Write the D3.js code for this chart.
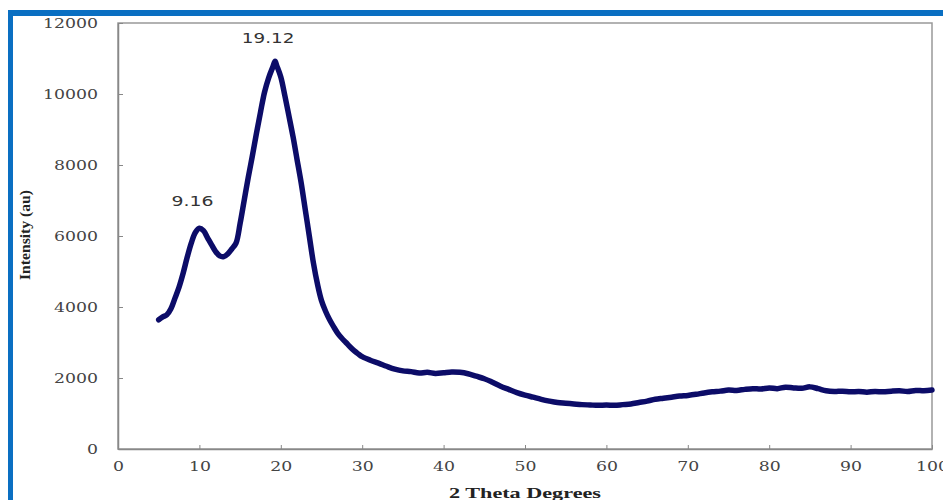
<!DOCTYPE html>
<html>
<head>
<meta charset="utf-8">
<script src="https://cdn.jsdelivr.net/npm/d3@7"></script>
<style>
  body { margin: 0; background: #fff; }
  .tick text { font-family: "DejaVu Serif", serif; font-size: 13px; fill: #444; }
</style>
</head>
<body>
<div id="vis"></div>
<script>
var theta = [5, 5.5, 6, 6.5, 7, 7.5, 8, 8.5, 9, 9.5, 10, 10.5, 11, 11.5, 12, 12.5, 13, 13.5, 14, 14.5,
    15, 15.5, 16, 16.5, 17, 17.5, 18, 18.5, 19, 19.3, 19.5, 20, 20.5, 21, 21.5, 22, 22.5, 23, 23.5, 24, 24.5,
    25, 25.5, 26, 26.5, 27, 27.5, 28, 28.5, 29, 29.5, 30, 31, 32, 33, 34, 35, 36, 37, 38, 39,
    40, 41, 42, 43, 44, 45, 46, 47, 48, 49, 50, 51, 52, 53, 54, 55, 56, 57, 58, 59,
    60, 61, 62, 63, 64, 65, 66, 67, 68, 69, 70, 71, 72, 73, 74, 75, 76, 77, 78, 79,
    80, 81, 82, 83, 84, 85, 86, 87, 88, 89, 90, 91, 92, 93, 94, 95, 96, 97, 98, 99, 100];
var intensity = [3640, 3720, 3780, 3950, 4250, 4560, 4950, 5400, 5800, 6100, 6220, 6150, 5950, 5750, 5560, 5440, 5420, 5500, 5640, 5800,
    6350, 7000, 7650, 8250, 8880, 9480, 10050, 10450, 10750, 10920, 10800, 10480, 9950, 9380, 8800, 8150, 7500, 6750, 6000, 5250, 4650,
    4180, 3880, 3640, 3440, 3260, 3120, 3000, 2880, 2770, 2680, 2600, 2500, 2420, 2330, 2250, 2200, 2180, 2140, 2160, 2130,
    2150, 2170, 2160, 2120, 2050, 1980, 1880, 1770, 1680, 1590, 1520, 1460, 1400, 1350, 1310, 1290, 1270, 1250, 1240, 1230,
    1240, 1230, 1250, 1270, 1310, 1350, 1400, 1430, 1460, 1490, 1510, 1540, 1580, 1610, 1630, 1660, 1650, 1680, 1700, 1690,
    1720, 1700, 1740, 1720, 1710, 1750, 1700, 1640, 1620, 1630, 1610, 1620, 1600, 1620, 1610, 1630, 1640, 1620, 1650, 1640, 1660];

var xTicks = [0, 10, 20, 30, 40, 50, 60, 70, 80, 90, 100];
var yTicks = [0, 2000, 4000, 6000, 8000, 10000, 12000];

var peakLabels = ["9.16", "19.12"];
var peakTheta = [10, 19.3];
var peakValue = [6220, 10920];

var w = 943, h = 500;
var plotLeft = 118, plotRight = 932, plotTop = 23, plotBottom = 449;

var svg = d3.select("#vis").append("svg")
    .attr("width", w)
    .attr("height", h);

/* BLUE FRAME (top and left edges only are visible) */
svg.append("rect")
    .attr("x", 8).attr("y", 10)
    .attr("width", w - 8).attr("height", 6)
    .attr("fill", "#0a6fc2");
svg.append("rect")
    .attr("x", 8).attr("y", 10)
    .attr("width", 5).attr("height", h - 10)
    .attr("fill", "#0a6fc2");

/* SCALES */
var xScale = d3.scaleLinear().domain([0, 100]).range([plotLeft, plotRight]);
var yScale = d3.scaleLinear().domain([0, 12000]).range([plotBottom, plotTop]);

/* PLOT FRAME */
svg.append("rect")
    .attr("x", plotLeft).attr("y", plotTop)
    .attr("width", plotRight - plotLeft).attr("height", plotBottom - plotTop)
    .attr("fill", "none")
    .attr("stroke", "#999")
    .attr("stroke-width", 1.5);

/* AXES */
var xAxis = d3.axisBottom(xScale)
    .tickValues(xTicks)
    .tickSizeInner(-4)
    .tickSizeOuter(0)
    .tickPadding(14)
    .tickFormat(d3.format("d"));

var yAxis = d3.axisLeft(yScale)
    .tickValues(yTicks)
    .tickSizeInner(-5)
    .tickSizeOuter(0)
    .tickPadding(20)
    .tickFormat(d3.format("d"));

var gx = svg.append("g")
    .attr("transform", "translate(0," + plotBottom + ")")
    .call(xAxis);

var gy = svg.append("g")
    .attr("transform", "translate(" + plotLeft + ",0)")
    .call(yAxis);

[gx, gy].forEach(function (g) {
    g.select(".domain").attr("stroke", "#888").attr("stroke-width", 1.5);
    g.selectAll(".tick line").attr("stroke", "#888");
    g.selectAll(".tick text")
        .attr("textLength", function (d) { return String(d).length * 11; })
        .attr("lengthAdjust", "spacingAndGlyphs");
});
gx.selectAll(".tick text").attr("dy", "0.6em");

/* CURVE */
var pts = theta.map(function (t, i) { return [t, intensity[i]]; });

var line = d3.line()
    .x(d => xScale(d[0]))
    .y(d => yScale(d[1]))
    .curve(d3.curveCatmullRom);

svg.append("path")
    .datum(pts)
    .attr("d", line)
    .attr("fill", "none")
    .attr("stroke", "#0c0c68")
    .attr("stroke-width", 5.5)
    .attr("stroke-linejoin", "round")
    .attr("stroke-linecap", "round");

/* PEAK LABELS */
svg.selectAll(".peak")
    .data(peakLabels)
    .enter()
    .append("text")
    .attr("class", "peak")
    .attr("x", (d, i) => xScale(peakTheta[i]) - 7)
    .attr("y", (d, i) => yScale(peakValue[i]) - (i === 0 ? 22 : 18))
    .attr("text-anchor", "middle")
    .attr("textLength", d => d.length * 10.5)
    .attr("lengthAdjust", "spacingAndGlyphs")
    .style("font-family", "DejaVu Sans, sans-serif")
    .style("font-size", "14px")
    .style("fill", "#333")
    .text(d => d);

/* AXIS TITLES */
svg.append("text")
    .attr("x", (plotLeft + plotRight) / 2)
    .attr("y", 498)
    .attr("text-anchor", "middle")
    .attr("textLength", 152)
    .attr("lengthAdjust", "spacingAndGlyphs")
    .style("font-family", "Liberation Serif, serif")
    .style("font-weight", "bold")
    .style("font-size", "15px")
    .style("fill", "#222")
    .text("2 Theta Degrees");

svg.append("text")
    .attr("transform", "translate(30,235) rotate(-90)")
    .attr("text-anchor", "middle")
    .attr("textLength", 90)
    .attr("lengthAdjust", "spacingAndGlyphs")
    .style("font-family", "Liberation Serif, serif")
    .style("font-weight", "bold")
    .style("font-size", "14px")
    .style("fill", "#222")
    .text("Intensity (au)");
</script>
</body>
</html>
